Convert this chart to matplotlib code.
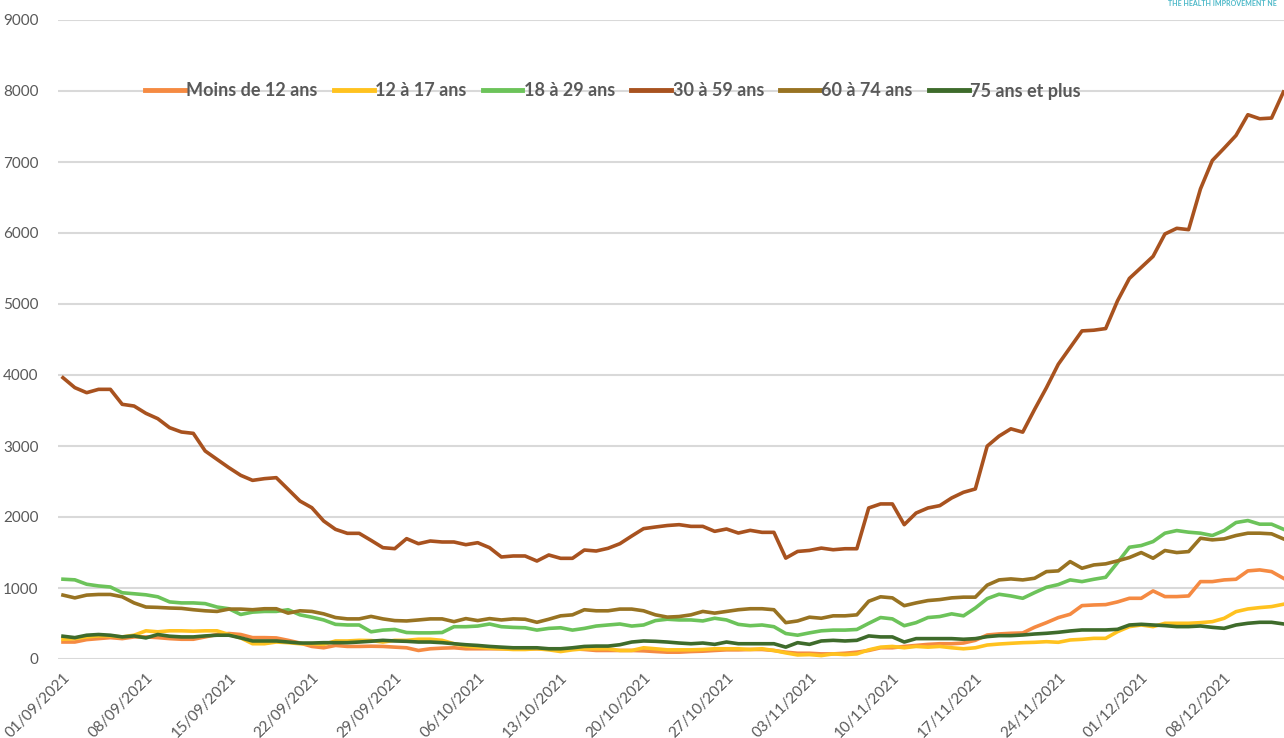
import numpy as np
import pandas as pd
import matplotlib
matplotlib.use("Agg")
import matplotlib.pyplot as plt
import matplotlib.dates as mdates

dates = pd.date_range("2021-09-01", periods=104, freq="D")

series_names = ["Moins de 12 ans", "12 à 17 ans", "18 à 29 ans",
                "30 à 59 ans", "60 à 74 ans", "75 ans et plus"]

moins_12 = [239, 239, 273, 287, 301, 287, 311, 311, 301, 287, 278, 278, 311, 345, 359, 345, 301, 301, 297, 263, 225, 177, 158, 191, 177, 177, 180,
            177, 167, 158, 120, 144, 153, 158, 144, 144, 144, 144, 144, 144, 144, 144, 144, 144, 134, 120, 120, 120, 120, 115, 105, 96,
            96, 105, 110, 120, 129, 129, 134, 134, 120, 96, 81, 81, 72, 72, 81, 96, 120, 158, 158, 177, 191, 206, 215, 215, 225, 263,
            338, 353, 362, 367, 447, 512, 583, 630, 752, 761, 766, 804, 855, 855, 959, 879, 879, 888, 1090, 1090, 1114, 1123, 1241, 1255, 1231, 1137]

a12_17 = [278, 287, 311, 325, 325, 311, 335, 397, 383, 397, 397, 392, 397, 397, 345, 297, 215, 215, 239, 230, 215, 215, 206, 254, 254, 263, 260,
          239, 263, 263, 278, 278, 263, 215, 182, 167, 153, 144, 134, 134, 144, 129, 105, 129, 144, 144, 144, 120, 120, 158, 144, 129,
          129, 129, 134, 144, 144, 144, 134, 144, 120, 86, 57, 62, 48, 72, 62, 72, 129, 167, 177, 158, 177, 167, 177, 158, 144, 158,
          197, 211, 221, 230, 235, 244, 235, 268, 277, 291, 291, 385, 456, 479, 456, 503, 503, 503, 512, 526, 573, 667, 705, 724, 738, 771]

a18_29 = [1124, 1115, 1053, 1029, 1014, 933, 919, 904, 876, 804, 790, 790, 780, 732, 708, 627, 660, 670, 670, 694, 622, 589, 550, 488, 479, 479, 383,
          407, 416, 373, 368, 368, 373, 455, 455, 464, 493, 455, 445, 440, 407, 431, 440, 407, 431, 464, 479, 493, 464, 479, 541, 560,
          550, 550, 536, 574, 550, 488, 469, 479, 455, 359, 335, 368, 397, 407, 407, 416, 502, 584, 565, 469, 512, 584, 598, 636, 608, 718,
          850, 912, 888, 855, 935, 1010, 1048, 1114, 1090, 1123, 1151, 1358, 1574, 1598, 1654, 1772, 1809, 1786, 1772, 1739, 1809, 1922, 1950, 1899, 1899, 1828]

a30_59 = [3962, 3822, 3751, 3798, 3798, 3587, 3563, 3460, 3385, 3258, 3197, 3178, 2930, 2812, 2695, 2587, 2516, 2540, 2554, 2390, 2225, 2131, 1944, 1826, 1770, 1770,
          1671, 1568, 1554, 1695, 1624, 1662, 1648, 1648, 1610, 1638, 1568, 1437, 1451, 1451, 1380, 1465, 1418, 1418, 1535, 1521, 1559, 1624, 1732, 1836, 1859, 1880,
          1892, 1868, 1868, 1798, 1831, 1774, 1812, 1784, 1784, 1421, 1515, 1529, 1562, 1539, 1553, 1553, 2127, 2184, 2184, 1892, 2056, 2127, 2160, 2268, 2348, 2395,
          2998, 3139, 3242, 3195, 3515, 3821, 4151, 4386, 4621, 4631, 4654, 5045, 5360, 5515, 5671, 5986, 6066, 6047, 6621, 7021, 7195, 7374, 7666, 7609, 7619, 7986]

a60_74 = [900, 861, 900, 909, 909, 876, 790, 732, 727, 718, 713, 694, 679, 670, 703, 703, 694, 708, 708, 646, 679, 670, 636, 584, 565, 565, 600,
          565, 541, 536, 550, 565, 565, 526, 569, 541, 569, 550, 565, 560, 517, 560, 608, 622, 694, 679, 679, 703, 703, 679, 622, 590,
          598, 622, 670, 646, 670, 694, 708, 708, 694, 512, 536, 589, 574, 608, 608, 622, 813, 876, 861, 751, 790, 823, 837, 861, 871, 871,
          1040, 1114, 1128, 1114, 1137, 1231, 1241, 1372, 1278, 1325, 1340, 1382, 1429, 1499, 1419, 1528, 1499, 1513, 1701, 1678, 1692, 1739, 1772, 1772, 1763, 1692]

a75_plus = [321, 301, 335, 345, 335, 311, 325, 297, 345, 321, 311, 311, 325, 335, 335, 297, 254, 254, 254, 239, 225, 225, 230, 230, 230, 239, 250,
            263, 254, 249, 239, 239, 230, 215, 201, 191, 177, 167, 158, 158, 158, 144, 144, 158, 177, 182, 182, 201, 239, 254, 249, 239,
            225, 215, 225, 206, 239, 215, 215, 215, 215, 167, 230, 206, 254, 263, 254, 263, 325, 311, 311, 239, 287, 287, 287, 287, 278, 287,
            315, 329, 329, 338, 352, 362, 376, 395, 409, 409, 409, 418, 479, 489, 479, 470, 456, 456, 465, 446, 432, 479, 503, 517, 517, 494]

colors = ["#F58A42", "#FFC21F", "#6CC35A", "#A8521F", "#987322", "#3E6B2B"]
all_series = [moins_12, a12_17, a18_29, a30_59, a60_74, a75_plus]
n = len(dates)
all_series = [list(s[:n]) + [s[-1]] * (n - len(s)) for s in all_series]

plt.rcParams['font.family'] = ['Lato', 'DejaVu Sans']

fig = plt.figure(figsize=(12.84, 7.38), dpi=100)
ax = fig.add_axes([58 / 1284, 1 - 659 / 738, 1 - 58 / 1284, (659 - 20) / 738])

xnum = mdates.date2num(dates)
for name, vals, c in zip(series_names, all_series, colors):
    ax.plot(xnum, vals, color=c, lw=2.6, label=name, solid_joinstyle='round')

ax.set_ylim(0, 9000)
ax.set_yticks(np.arange(0, 9001, 1000))
ax.set_xlim(xnum[0] - 0.42, xnum[0] + 103.05)
tick_dates = pd.date_range("2021-09-01", "2021-12-08", freq="7D")
ax.set_xticks(mdates.date2num(tick_dates))
ax.set_xticklabels([d.strftime("%d/%m/%Y") for d in tick_dates], rotation=45,
                   ha='right', rotation_mode='anchor')

ax.grid(axis='y', color='#D9D9D9', lw=1.5)
ax.set_axisbelow(True)
for s in ax.spines.values():
    s.set_visible(False)
ax.tick_params(axis='both', length=0, colors='#595959', labelsize=11)
ax.tick_params(axis='y', pad=14)
ax.tick_params(axis='x', pad=8)

leg = ax.legend(loc='center', bbox_to_anchor=(613 / 1284, 1 - 91 / 738),
                bbox_transform=fig.transFigure, ncol=6, frameon=False,
                handlelength=2.2, handletextpad=0.08, columnspacing=0.9,
                prop={'weight': 'bold', 'size': 13})
for t in leg.get_texts():
    t.set_color('#595959')
for l in leg.get_lines():
    l.set_linewidth(3.5)

fig.text(1168 / 1284, 1 - 4 / 738, "THE HEALTH IMPROVEMENT NE", fontsize=5,
         color='#4BB8C8', fontweight='bold', va='center', ha='left')

fig.savefig("out.png", dpi=100)
